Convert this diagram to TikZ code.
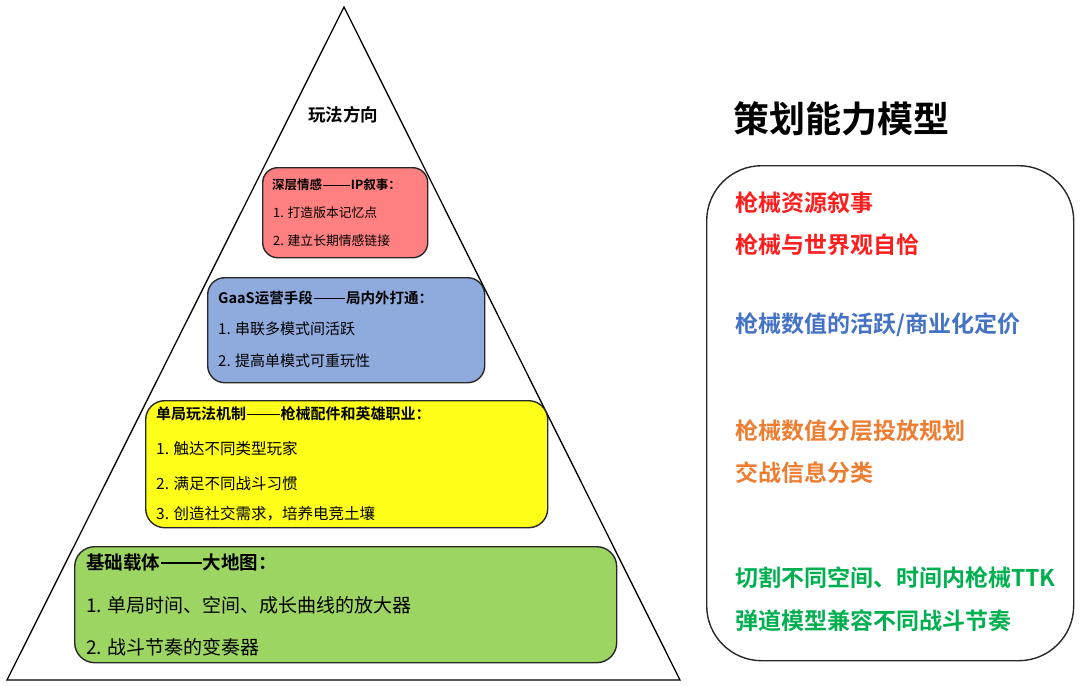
\documentclass[tikz,border=0pt]{standalone}
\usepackage{fontspec}
\setmainfont{Noto Sans CJK SC}[BoldFont={Noto Sans CJK SC Bold}]
\newcommand{\longdash}{\kern0.05em\rule[0.34em]{2.2em}{0.075em}\kern0.05em}
\definecolor{pinkfill}{RGB}{255,128,128}
\definecolor{bluefill}{RGB}{143,170,220}
\definecolor{yellowfill}{RGB}{255,255,26}
\definecolor{greenfill}{RGB}{157,213,98}
\definecolor{edgegray}{RGB}{40,40,40}
\definecolor{tred}{RGB}{255,30,30}
\definecolor{tblue}{RGB}{68,114,196}
\definecolor{torange}{RGB}{237,125,49}
\definecolor{tgreen}{RGB}{0,176,80}
\tikzset{
  layerbox/.style={draw=edgegray, line width=1.4pt, anchor=north west, inner sep=0pt},
  txt/.style={anchor=west, inner sep=0pt, text=black},
  fs/.style={font=\fontsize{#1}{#1}\selectfont},
  fsb/.style={font=\fontsize{#1}{#1}\selectfont\bfseries},
}
\begin{document}
\begin{tikzpicture}[x=1pt,y=-1pt]
\useasboundingbox (0,0) rectangle (1080,686);
\fill[white] (0,0) rectangle (1080,686);
% pyramid
\coordinate (apex) at (344,7);
\coordinate (bl) at (7,680);
\coordinate (br) at (680,680);
\draw[line width=1.3pt, line join=miter] (apex) -- (bl) -- (br) -- cycle;
\node[txt, fsb=17.5, anchor=center] (top) at (343,115) {玩法方向};

% layer boxes
\node[layerbox, fill=pinkfill, rounded corners=15pt, minimum width=165pt, minimum height=90pt] (pinkbox) at (262,167) {};
\node[layerbox, fill=bluefill, rounded corners=17pt, minimum width=277pt, minimum height=105pt] (bluebox) at (207,277) {};
\node[layerbox, fill=yellowfill, rounded corners=19pt, minimum width=402pt, minimum height=127pt] (yellowbox) at (145,400) {};
\node[layerbox, fill=greenfill, rounded corners=20pt, minimum width=542pt, minimum height=116pt] (greenbox) at (74,546) {};

% pink text
\node[txt, fsb=12.5] (p0) at (272,185) {深层情感\longdash IP叙事：};
\node[txt, fs=12.8] (p1) at (273,213) {1. 打造版本记忆点};
\node[txt, fs=12.8] (p2) at (273,241) {2. 建立长期情感链接};
% blue text
\node[txt, fsb=14.5] (b0) at (218,298) {GaaS运营手段\longdash 局内外打通：};
\node[txt, fs=15] (b1) at (218,329) {1. 串联多模式间活跃};
\node[txt, fs=15] (b2) at (218,361) {2. 提高单模式可重玩性};
% yellow text
\node[txt, fsb=15] (y0) at (156,414) {单局玩法机制\longdash 枪械配件和英雄职业：};
\node[txt, fs=15.5] (y1) at (156,449) {1. 触达不同类型玩家};
\node[txt, fs=15.5] (y2) at (156,484) {2. 满足不同战斗习惯};
\node[txt, fs=15.5] (y3) at (156,514) {3. 创造社交需求，培养电竞土壤};
% green text
\node[txt, fsb=18.5] (g0) at (86,563) {基础载体\longdash 大地图：};
\node[txt, fs=19] (g1) at (86,605) {1. 单局时间、空间、成长曲线的放大器};
\node[txt, fs=19] (g2) at (86,647) {2. 战斗节奏的变奏器};

% right panel
\node[txt, fsb=36] (title) at (733,119) {策划能力模型};
\node[draw=edgegray, line width=1.4pt, rounded corners=55pt, anchor=north west, minimum width=367pt, minimum height=495pt, inner sep=0pt] (panel) at (706,165) {};
\node[txt, fsb=23, text=tred] (r1) at (735,203) {枪械资源叙事};
\node[txt, fsb=23, text=tred] (r2) at (735,245) {枪械与世界观自恰};
\node[txt, fsb=23, text=tblue] (r3) at (735,325) {枪械数值的活跃/商业化定价};
\node[txt, fsb=23, text=torange] (r4) at (735,431) {枪械数值分层投放规划};
\node[txt, fsb=23, text=torange] (r5) at (735,473) {交战信息分类};
\node[txt, fsb=23, text=tgreen] (r6) at (735,578) {切割不同空间、时间内枪械TTK};
\node[txt, fsb=23, text=tgreen] (r7) at (735,621) {弹道模型兼容不同战斗节奏};
\end{tikzpicture}
\end{document}
